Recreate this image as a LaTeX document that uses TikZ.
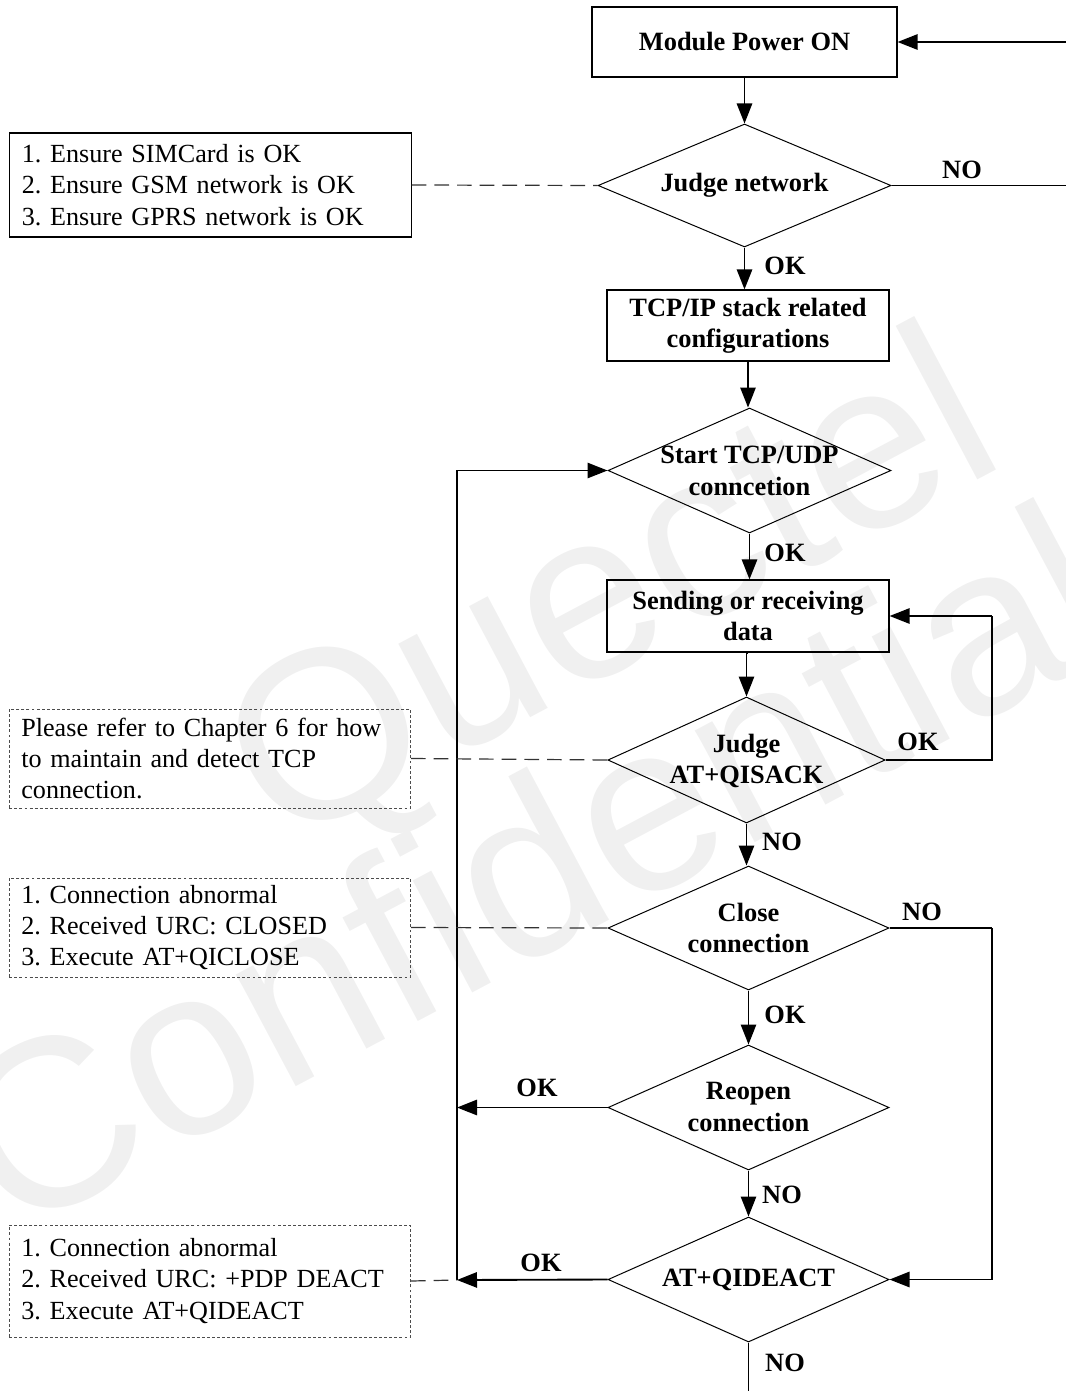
\documentclass[tikz,border=0pt]{standalone}
\usepackage{fontspec}
\setmainfont{Liberation Serif}
\newfontfamily\wmfont{Liberation Sans}
\usetikzlibrary{shapes.geometric,arrows.meta}
\frenchspacing
\begin{document}
\begin{tikzpicture}[x=0.75pt,y=-0.75pt,
  fnt/.style={font=\fontsize{19.6}{23.5}\selectfont},
  bfnt/.style={font=\fontsize{19.8}{23.5}\selectfont\bfseries},
  procbox/.style={draw, line width=0.9pt, rectangle, inner sep=0pt, bfnt, align=center},
  dia/.style={draw, line width=0.75pt, diamond, inner sep=0pt},
  dtext/.style={bfnt, align=center, inner sep=0pt},
  infobox/.style={rectangle, inner xsep=9pt, inner ysep=0pt, fnt, align=left, minimum width=301pt, text width=283pt},
  solidinfo/.style={infobox, draw, line width=0.8pt},
  dashinfo/.style={infobox, draw=black!70, line width=0.6pt, dash pattern=on 2.2pt off 1.6pt},
  conn/.style={line width=1.4pt},
  arr/.style={conn, -{Triangle[length=15pt,width=11.5pt]}},
  dconn/.style={line width=0.9pt, black!80, dash pattern=on 11pt off 6pt},
  lbl/.style={bfnt, inner sep=0pt},
  wm/.style={font=\wmfont\fontsize{180}{180}\selectfont, text=black!6, inner sep=0pt}
]
\useasboundingbox (0,0) rectangle (1065,1391);

% watermark
\node[wm, rotate=28] (wm1) at (615,600) {Quectel};
\node[wm, rotate=28] (wm2) at (530,865) {Confidential};

% main flow nodes
\node[procbox, minimum width=228.75pt, minimum height=52.5pt] (power) at (744.5,42) {Module Power ON};
\node[dia, minimum width=219.75pt, minimum height=92.25pt] (d1) at (744.5,185.5) {};
\node[dtext] (d1t) at (d1.center) {Judge network};
\node[procbox, minimum width=211.5pt, minimum height=53.25pt] (tcp) at (748,325.5) {TCP/IP stack related\\configurations};
\node[dia, minimum width=212.25pt, minimum height=93.75pt] (d2) at (749.5,470.5) {};
\node[dtext] (d2t) at (749.5,471) {Start TCP/UDP\\conncetion};
\node[procbox, minimum width=211.5pt, minimum height=54pt] (send) at (748,616) {Sending or receiving\\data};
\node[dia, minimum width=208pt, minimum height=94.5pt] (d3) at (746.5,760) {};
\node[dtext] (d3t) at (746.5,761) {Judge\\AT+QISACK};
\node[dia, minimum width=210.75pt, minimum height=93pt] (d4) at (748.5,928) {};
\node[dtext] (d4t) at (748.5,928) {Close\\connection};
\node[dia, minimum width=210.75pt, minimum height=93.75pt] (d5) at (748.5,1107.5) {};
\node[dtext] (d5t) at (748.5,1107) {Reopen\\connection};
\node[dia, minimum width=210.75pt, minimum height=93.75pt] (d6) at (748.5,1279.5) {};
\node[dtext] (d6t) at (748.5,1280) {AT+QIDEACT};

% info boxes
\node[solidinfo, minimum height=78pt] (i1) at (210.5,185) {1. Ensure SIMCard is OK\\2. Ensure GSM network is OK\\3. Ensure GPRS network is OK};
\node[dashinfo, minimum height=74.25pt] (i2) at (210,758.5) {Please refer to Chapter 6 for how\\to maintain and detect TCP\\connection.};
\node[dashinfo, minimum height=74.25pt] (i3) at (210,927.5) {1. Connection abnormal\\2. Received URC: CLOSED\\3. Execute AT+QICLOSE};
\node[dashinfo, minimum height=84pt] (i4) at (210,1281) {1. Connection abnormal\\2. Received URC: +PDP DEACT\\3. Execute AT+QIDEACT};

% helper coordinates
\coordinate (rtop) at (1067,42);
\coordinate (rnet) at (1067,185.5);
\coordinate (loopA) at (992,760);
\coordinate (loopB) at (992,616);
\coordinate (closeA) at (992,928);
\coordinate (lx5) at (457,1107.5);
\coordinate (lx6) at (457,1280);
\coordinate (endB) at (748.5,1391);

% main vertical arrows
\draw[arr] (power.south) -- (d1.north);
\draw[arr] (d1.south) -- (d1.south |- tcp.north);
\draw[arr] (tcp.south) -- (tcp.south |- d2.north);
\draw[arr] (d2.south) -- (d2.south |- send.north);
\draw[arr] (send.south) -- (send.south -| d3.north) -- (d3.north);
\draw[arr] (d3.south) -- (d3.south |- d4.north);
\draw[arr] (d4.south) -- (d5.north);
\draw[arr] (d5.south) -- (d6.north);
\draw[conn] (d6.south) -- (endB);

% NO loop back to power
\draw[conn] (d1.east) -- (rnet) -- (rtop);
\draw[arr] (rtop) -- (power.east);

% OK loop of QISACK
\draw[conn] (d3.east) -- (loopA) -- (loopB);
\draw[arr] (loopB) -- (send.east);

% Close NO to QIDEACT
\draw[conn] (d4.east) -- (closeA);
\draw[arr] (closeA) |- (d6.east);

% left return line
\draw[arr] (d5.west) -- (lx5);
\draw[arr] (d6.west) -- (lx6);
\draw[arr] (lx6) |- (d2.west);

% dashed connectors from info boxes
\draw[dconn] (i1.east) -- (d1.west);
\draw[dconn] (i2.east) -- (d3.west);
\draw[dconn] (i3.east) -- (d4.west);
\draw[dconn] (i4.east) -- (lx6);

% labels
\node[lbl] (l1) at (962,170) {NO};
\node[lbl] (l2) at (785,266) {OK};
\node[lbl] (l3) at (785,553) {OK};
\node[lbl] (l4) at (918,742) {OK};
\node[lbl] (l5) at (782,842) {NO};
\node[lbl] (l6) at (922,912) {NO};
\node[lbl] (l7) at (785,1015) {OK};
\node[lbl] (l8) at (537,1088) {OK};
\node[lbl] (l9) at (782,1195) {NO};
\node[lbl] (l10) at (541,1263) {OK};
\node[lbl] (l11) at (785,1363) {NO};
\end{tikzpicture}
\end{document}
